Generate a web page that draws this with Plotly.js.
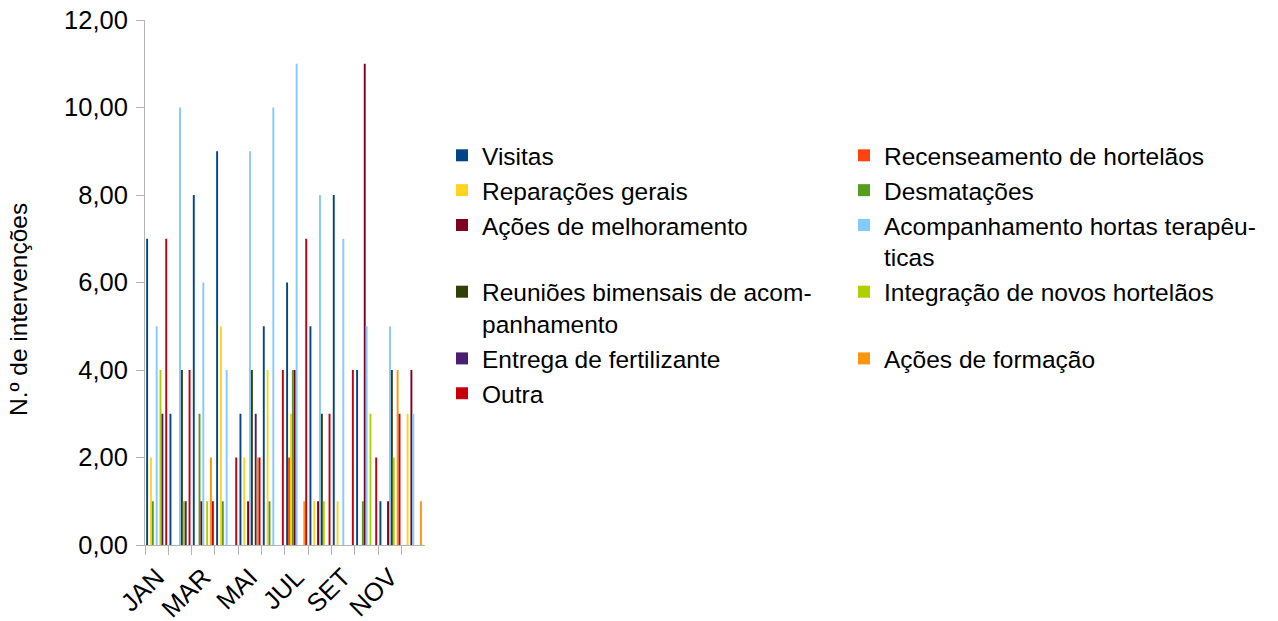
<!DOCTYPE html>
<html><head><meta charset="utf-8">
<script src="https://cdn.plot.ly/plotly-3.0.1.min.js"></script>
<style>html,body{margin:0;padding:0;background:#fff}#chart{width:1278px;height:621px}</style>
</head><body><div id="chart"></div>
<script>
const months = ["JAN","FEV","MAR","ABR","MAI","JUN","JUL","AGO","SET","OUT","NOV","DEZ"];
const monthLabels = ["JAN","","MAR","","MAI","","JUL","","SET","","NOV",""];

// legend labels (line breaks as in the reference legend)
const seriesNames = [
  "Visitas",
  "Recenseamento de hortelãos",
  "Reparações gerais",
  "Desmatações",
  "Ações de melhoramento<br>\u00a0",
  "Acompanhamento hortas terapêu-<br>ticas",
  "Reuniões bimensais de acom-<br>panhamento",
  "Integração de novos hortelãos<br>\u00a0",
  "Entrega de fertilizante",
  "Ações de formação",
  "Outra"
];
// which legend column each series belongs to
const legendColumn = ["legend","legend2","legend","legend2","legend","legend2",
  "legend","legend2","legend","legend2","legend"];

const visitas        = [7, 3, 8, 9, 3, 5, 6, 5, 8, 4, 1, 0];
const recenseamento  = [0, 0, 0, 0, 0, 0, 2, 0, 0, 0, 0, 0];
const reparacoes     = [2, 0, 0, 5, 2, 4, 3, 1, 1, 0, 0, 3];
const desmatacoes    = [1, 0, 3, 1, 0, 1, 4, 0, 0, 1, 0, 0];
const melhoramento   = [0, 0, 1, 0, 1, 0, 4, 1, 0, 11, 1, 4];
const acompanhamento = [5, 10, 6, 4, 9, 10, 11, 8, 7, 5, 5, 3];
const reunioes       = [0, 4, 0, 0, 4, 0, 0, 3, 0, 0, 4, 0];
const integracao     = [4, 1, 1, 0, 0, 0, 0, 1, 0, 3, 2, 0];
const fertilizante   = [3, 1, 0, 0, 3, 0, 0, 0, 0, 0, 0, 0];
const formacao       = [0, 0, 2, 0, 2, 0, 1, 0, 0, 0, 4, 1];
const outra          = [7, 4, 1, 2, 2, 4, 7, 3, 4, 2, 3, 0];

const seriesValues = [visitas, recenseamento, reparacoes, desmatacoes, melhoramento,
  acompanhamento, reunioes, integracao, fertilizante, formacao, outra];

const colors = ["#004586","#ff420e","#ffd320","#579d1c","#7e0021","#83caff",
  "#314004","#aecf00","#4b1f6f","#ff950e","#c5000b"];

const FONT = "Liberation Sans, Arial, sans-serif";

const traces = seriesNames.map((name, i) => ({
  type: "bar",
  name: name,
  x: months,
  y: seriesValues[i],
  legend: legendColumn[i],
  marker: {color: colors[i], line: {width: 0}},
  hoverinfo: "x+y"
}));

const legendCommon = {
  orientation: "v",
  xanchor: "left",
  y: 0.785,
  yanchor: "top",
  valign: "top",
  traceorder: "normal",
  font: {family: FONT, size: 24.5, color: "#000000"},
  bgcolor: "rgba(0,0,0,0)",
  borderwidth: 0
};

const layout = {
  width: 1278,
  height: 621,
  paper_bgcolor: "#ffffff",
  plot_bgcolor: "#ffffff",
  separators: ",.",
  margin: {l: 145, r: 5, t: 20, b: 76, pad: 0},
  barmode: "group",
  bargap: 0.1,
  bargroupgap: 0,
  font: {family: FONT, size: 24, color: "#000000"},
  xaxis: {
    domain: [0, 0.2482],
    type: "category",
    tickmode: "array",
    tickvals: months,
    ticktext: monthLabels,
    tickson: "boundaries",
    ticks: "outside",
    ticklen: 9,
    tickcolor: "#b3b3b3",
    tickangle: -45,
    ticklabelstandoff: 6,
    tickfont: {family: FONT, size: 25.5, color: "#000000"},
    showline: true,
    linecolor: "#b3b3b3",
    linewidth: 1,
    showgrid: false,
    zeroline: false
  },
  yaxis: {
    range: [0, 12],
    tickmode: "linear",
    tick0: 0,
    dtick: 2,
    tickformat: ".2f",
    ticks: "outside",
    ticklen: 8,
    tickcolor: "#b3b3b3",
    ticklabelstandoff: 3,
    tickfont: {family: FONT, size: 25.5, color: "#000000"},
    showline: true,
    linecolor: "#b3b3b3",
    linewidth: 1,
    showgrid: false,
    zeroline: false
  },
  annotations: [{
    text: "N.º de intervenções",
    xref: "paper", yref: "paper",
    x: -0.1126, y: 0.4495,
    xanchor: "center", yanchor: "middle",
    textangle: -90,
    showarrow: false,
    font: {family: FONT, size: 24.5, color: "#000000"}
  }],
  showlegend: true,
  legend: Object.assign({x: 0.2633}, legendCommon),
  legend2: Object.assign({x: 0.6197}, legendCommon)
};

Plotly.newPlot("chart", traces, layout, {displayModeBar: false, staticPlot: true});
</script>
</body></html>
